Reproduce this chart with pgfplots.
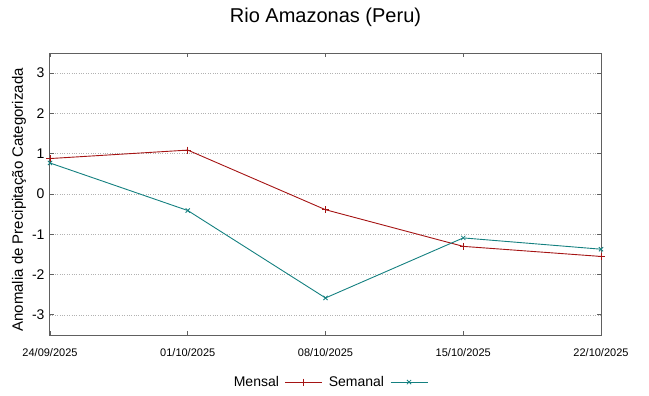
\documentclass[border=0pt]{standalone}
\usepackage{pgfplots}
\pgfplotsset{compat=1.18}
\usepackage{fontspec}
\setmainfont{Liberation Sans}
\definecolor{mensal}{RGB}{165,20,20}
\definecolor{semanal}{RGB}{20,128,128}
\definecolor{axisgray}{RGB}{96,96,96}
\begin{document}
\begin{tikzpicture}
\begin{axis}[
  name=ax,
  scale only axis,
  width=551bp, height=282bp,
  xmin=0, xmax=4, ymin=-3.5, ymax=3.5,
  xtick={0,1,2,3,4},
  xticklabels={24/09/2025,01/10/2025,08/10/2025,15/10/2025,22/10/2025},
  ytick={-3,-2,-1,0,1,2,3},
  /pgf/number format/assume math mode=true,
  tick align=inside,
  tick style={axisgray, line width=0.8bp},
  major tick length=4bp,
  axis line style={axisgray, line width=1bp},
  ymajorgrids,
  grid style={dotted, color=black!30, line width=0.7bp},
  xticklabel style={font=\fontsize{11bp}{13bp}\selectfont, yshift=-10bp},
  yticklabel style={font=\fontsize{14bp}{16bp}\selectfont, xshift=-2bp},
  title={Rio Amazonas (Peru)},
  title style={font=\fontsize{20bp}{24bp}\selectfont, at={(axis description cs:0.5,1)}, anchor=center, yshift=30bp},
  ylabel={Anomalia de Precipitação Categorizada},
  ylabel style={font=\fontsize{15bp}{18bp}\selectfont, at={(axis description cs:-0.056,0.479)}, anchor=center},
  legend columns=-1,
  legend plot pos=right,
  legend style={draw=none, fill=none, at={(axis description cs:0.508,-0.167)}, anchor=center,
    font=\fontsize{14bp}{16bp}\selectfont, column sep=4bp},
  legend image code/.code={\draw[mark repeat=2,mark phase=2] plot coordinates {(0bp,0bp)(18.5bp,0bp)(37bp,0bp)};},
]
\addplot[mensal, line width=0.9bp, mark=+, mark size=3.5bp, mark options={line width=0.8bp}] coordinates {
(0,0.88) (1,1.09) (2,-0.39) (3,-1.30) (4,-1.55)};
\addlegendentry{Mensal}
\addplot[semanal, line width=0.9bp, mark=x, mark size=3bp, mark options={line width=0.8bp}] coordinates {
(0,0.77) (1,-0.41) (2,-2.58) (3,-1.09) (4,-1.37)};
\addlegendentry{Semanal}
\end{axis}
\path (ax.south west) ++(-50bp,-61bp) rectangle ++(649bp,396bp);
\end{tikzpicture}
\end{document}
